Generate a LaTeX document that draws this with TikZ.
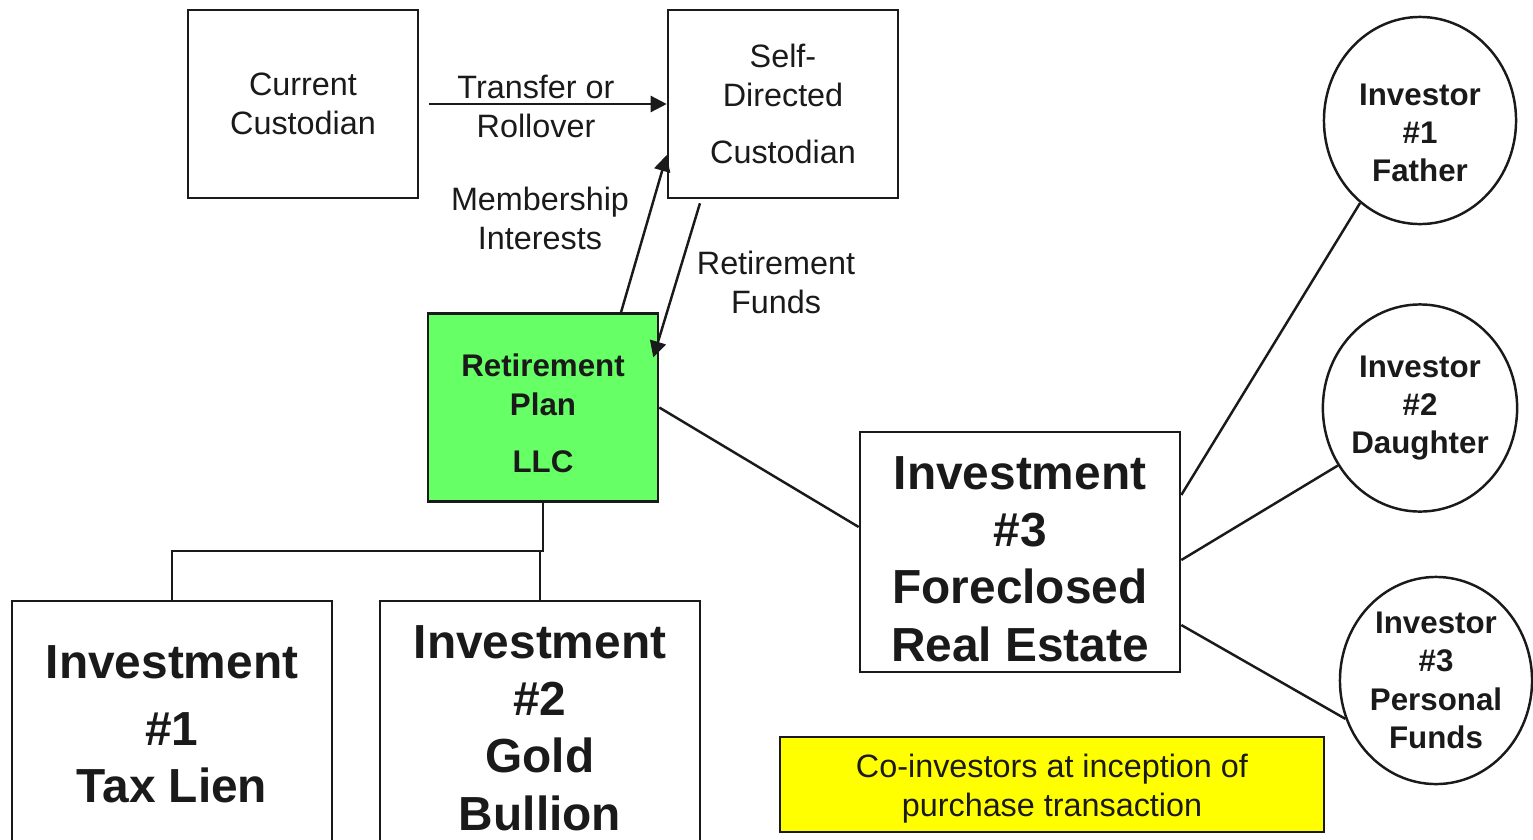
\documentclass[tikz,border=0pt]{standalone}
\usepackage{fontspec}
\setmainfont{Liberation Sans}
\usetikzlibrary{arrows.meta,shapes.geometric}
\definecolor{llcgreen}{HTML}{66FF66}
\definecolor{noteyellow}{HTML}{FFFF00}
\definecolor{ink}{HTML}{1A1A1A}
\newcommand{\plaintxt}{\fontsize{9.2}{11.1}\selectfont}
\newcommand{\boldtxt}{\bfseries\fontsize{8.9}{10.9}\selectfont}
\newcommand{\bigtxt}{\bfseries\fontsize{13.6}{16.3}\selectfont}

\begin{document}
\begin{tikzpicture}[x=0.01cm,y=-0.01cm,line width=0.7pt,draw=ink,text=ink,
    every node/.style={align=center,inner sep=0pt},
    custbox/.style={draw,minimum width=2.3cm,minimum height=1.88cm,font=\plaintxt},
    invbox/.style={draw,minimum width=3.2cm,font=\bigtxt},
    investor/.style={draw,ellipse,minimum width=1.92cm,minimum height=2.07cm,font=\boldtxt},
    flow/.style={-{Triangle[length=4.6pt,width=4.6pt]}}]
      \useasboundingbox (0,0) rectangle (1533,839);
      % custodians
      \node[custbox] (current) at (303,104) {Current\\Custodian};
      \node[custbox] (selfdir) at (783,104) {Self-\\Directed\\[5.1pt]Custodian};
      % plan llc
      \node[custbox,fill=llcgreen,font=\boldtxt] (llc) at (543,407.5)
        {\rule{0pt}{9.8pt}Retirement\\Plan\\[5.4pt]LLC};
      % investments
      \node[invbox,minimum height=2.54cm] (inv1) at (172,728)
        {Investment\\[2.8pt]\#1\\Tax Lien\rule[-2.3pt]{0pt}{1pt}};
      \node[invbox,minimum height=2.54cm] (inv2) at (540,728) {Investment\\\#2\\Gold\\Bullion};
      \node[invbox,minimum height=2.4cm] (inv3) at (1020,552)
        {\rule{0pt}{13.3pt}Investment\\\#3\\Foreclosed\\Real Estate};
      % co-investors
      \node[investor] (father) at (1420,120.5) {\rule{0pt}{13.2pt}Investor\\\#1\\Father};
      \node[investor] (daughter) at (1420,408) {Investor\\\#2\\Daughter};
      \node[investor] (personal) at (1436,680.5) {Investor\\\#3\\Personal\\Funds};
      \node[draw,fill=noteyellow,minimum width=5.44cm,minimum height=0.95cm,font=\plaintxt] (note)
        at (1052,784.5) {\rule{0pt}{8.9pt}Co-investors at inception of\\purchase transaction};
      % labels
      \node[font=\plaintxt] (transfer) at (536,106.5) {Transfer or\\Rollover};
      \node[font=\plaintxt] (member) at (540,218.5) {Membership\\Interests};
      \node[font=\plaintxt] (funds) at (776,282.5) {Retirement\\Funds};
      % arrows
      \draw[flow] ([xshift=0.1cm]current.east) -- (selfdir.west);
      \draw[flow] ([xshift=0.78cm]llc.north) -- ([yshift=-0.51cm]selfdir.west);
      \draw[flow] ([xshift=-0.83cm,yshift=-0.04cm]selfdir.south) -- ([xshift=-0.06cm,yshift=0.5cm]llc.east);
      % tree below llc
      \coordinate (split) at (543,551);
      \draw (llc.south) -- (split) -| (inv1.north);
      \draw (inv2.north) -- (inv2.north |- split);
      \draw (llc.east) -- ([yshift=0.25cm]inv3.west);
      % investment 3 to investors
      \draw ([yshift=0.57cm]inv3.east) -- (father.234);
      \draw ([yshift=-0.08cm]inv3.east) -- (daughter.215);
      \draw ([yshift=-0.73cm]inv3.east) -- (personal.203);
\end{tikzpicture}
\end{document}
